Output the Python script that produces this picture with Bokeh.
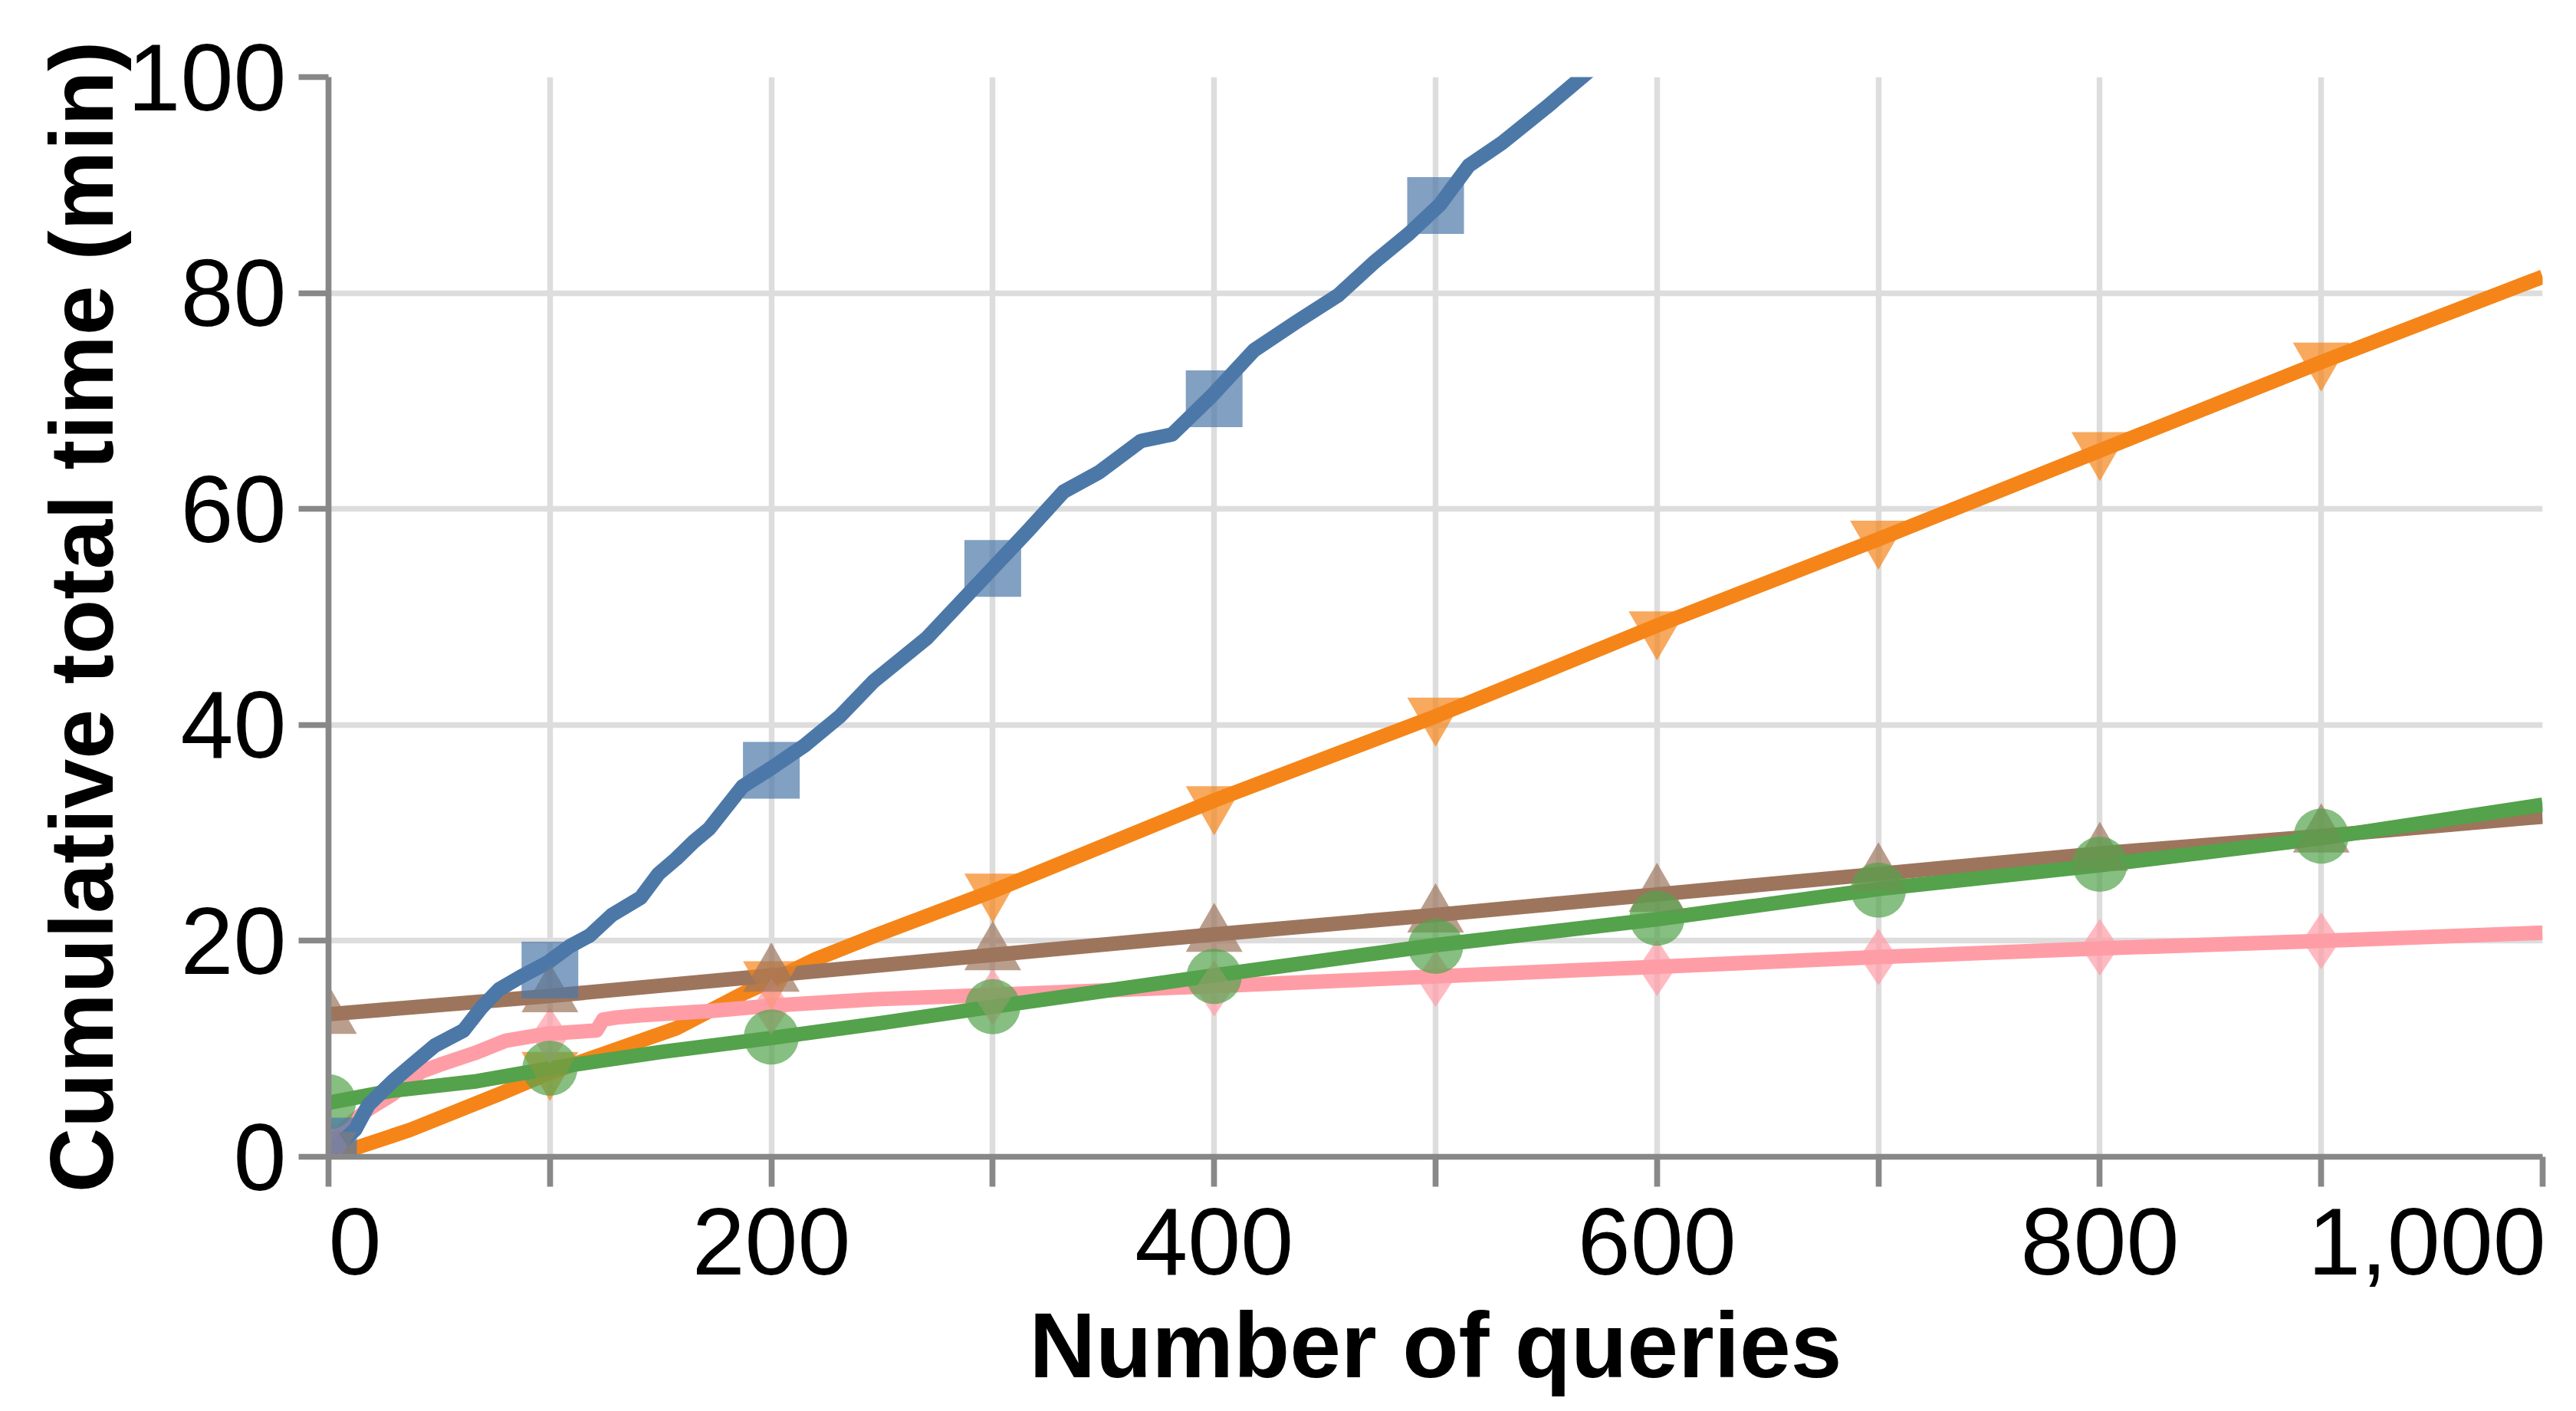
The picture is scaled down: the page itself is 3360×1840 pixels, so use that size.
import math
from bokeh.plotting import figure
from bokeh.models import Range1d, FixedTicker
from bokeh.embed import file_html
from bokeh.resources import INLINE

# ---- data ----
blue_q = [0, 5, 12, 18, 29, 37, 48, 61, 69, 77, 87, 99, 109, 118, 128, 141, 149, 157, 165, 172,
          187, 200, 215, 231, 246, 270, 299, 316, 332, 348, 367, 381, 399, 418, 437, 456, 472,
          488, 502, 515, 530, 550, 569, 580]
blue_v = [0.5, 1.2, 2.5, 4.8, 7.0, 8.4, 10.3, 11.7, 13.8, 15.5, 16.7, 18.0, 19.5, 20.5, 22.4, 24.0,
          26.2, 27.6, 29.2, 30.4, 34.3, 36.0, 38.1, 40.8, 44.0, 48.0, 54.3, 58.0, 61.6, 63.4, 66.3,
          66.9, 70.5, 74.7, 77.3, 79.8, 82.8, 85.5, 88.2, 91.8, 93.9, 97.2, 100.5, 102.5]

orange_q = [0, 12, 37, 77, 99, 125, 157, 188, 200, 220, 247, 300, 400, 500, 600, 700, 800, 900, 1000]
orange_v = [0.3, 0.8, 2.5, 5.8, 7.7, 9.6, 11.9, 15.2, 16.3, 18.3, 20.5, 24.6, 33.0, 40.8, 49.2,
            57.2, 65.4, 73.6, 81.5]

brown_q = [0, 100, 200, 300, 400, 500, 600, 700, 800, 900, 1000]
brown_v = [13.2, 14.9, 16.8, 18.7, 20.6, 22.4, 24.3, 26.2, 28.1, 29.7, 31.5]

green_q = [0, 28, 67, 100, 150, 200, 250, 300, 400, 500, 600, 700, 800, 900, 1000]
green_v = [5.0, 6.1, 7.0, 8.2, 9.7, 11.0, 12.4, 13.9, 16.8, 19.6, 22.0, 24.8, 27.0, 29.5, 32.6]

pink_q = [0, 8, 18, 29, 42, 50, 66, 80, 99, 121, 124, 130, 141, 172, 200, 247, 300, 400, 500,
          600, 700, 800, 900, 1000]
pink_v = [1.0, 2.8, 4.4, 5.8, 7.9, 8.5, 9.6, 10.75, 11.4, 11.7, 12.7, 12.9, 13.1, 13.5, 14.0,
          14.6, 15.0, 15.8, 16.7, 17.6, 18.5, 19.3, 20.0, 20.75]

marker_q = [0, 100, 200, 300, 400, 500, 600, 700, 800, 900]
blue_m = [1.0, 17.3, 35.8, 54.5, 70.2, 88.1]
orange_m = [0.8, 8.2, 16.6, 24.7, 32.8, 41.0, 49.0, 57.4, 65.6, 73.9]
brown_m = [12.9, 14.9, 16.8, 18.8, 20.5, 22.3, 24.2, 26.1, 28.0, 29.7]
green_m = [5.1, 8.2, 11.1, 13.9, 16.7, 19.5, 22.1, 24.7, 27.1, 29.7]
pink_m = [1.0, 11.2, 13.9, 14.8, 15.6, 16.5, 17.5, 18.5, 19.4, 20.0]

x_ticks = [0, 100, 200, 300, 400, 500, 600, 700, 800, 900, 1000]
x_tick_labels = ["0", "", "200", "", "400", "", "600", "", "800", "", "1,000"]
y_ticks = [0, 20, 40, 60, 80, 100]

x_title = "Number of queries"
y_title = "Cumulative total time (min)"

BLUE, ORANGE, BROWN, GREEN, PINK = "#4c78a8", "#f58518", "#9d755d", "#54a24b", "#ff9da6"
FONT = "Liberation Sans"
TICK_FS = "124px"

p = figure(width=3344, height=1836, output_backend="svg", toolbar_location=None,
           x_range=Range1d(0, 1000), y_range=Range1d(0, 100),
           min_border_left=428, min_border_right=28, min_border_top=100, min_border_bottom=328)
p.outline_line_color = None
p.background_fill_color = "white"
p.border_fill_color = "white"

# grid
p.xgrid.ticker = FixedTicker(ticks=x_ticks)
p.ygrid.ticker = FixedTicker(ticks=y_ticks)
for g in (p.xgrid[0], p.ygrid[0]):
    g.grid_line_color = "#dddddd"
    g.grid_line_width = 7.5

# axes
p.xaxis.ticker = FixedTicker(ticks=x_ticks)
p.yaxis.ticker = FixedTicker(ticks=y_ticks)
# Vega-style flush end labels: the first label is left-aligned on its tick, the last one
# right-aligned on its tick (emulated with no-break-space padding on centred labels).
nb = "\u00a0"
overrides = {t: lab for t, lab in zip(x_ticks, x_tick_labels)}
overrides[x_ticks[0]] = nb * 2 + x_tick_labels[0]
overrides[x_ticks[-1]] = ""
overrides[x_ticks[-2]] = nb * 8 + x_tick_labels[-1]
p.xaxis.major_label_overrides = overrides

for ax in (p.xaxis[0], p.yaxis[0]):
    ax.axis_line_color = "#888888"
    ax.axis_line_width = 7.7
    ax.major_tick_line_color = "#888888"
    ax.major_tick_line_width = 7.7
    ax.major_tick_out = 39
    ax.major_tick_in = 0
    ax.minor_tick_line_color = None
    ax.major_label_text_font = FONT
    ax.major_label_text_font_size = TICK_FS
    ax.major_label_text_color = "black"
    ax.axis_label_text_font = FONT
    ax.axis_label_text_font_style = "bold"
    ax.axis_label_text_color = "black"

p.xaxis.axis_label = x_title
p.yaxis.axis_label = y_title
p.xaxis.axis_label_text_font_size = "120px"
p.yaxis.axis_label_text_font_size = "117px"
p.xaxis.major_label_standoff = 2
p.yaxis.major_label_standoff = 16
p.xaxis.axis_label_standoff = -4
p.yaxis.axis_label_standoff = -8

LW = 19
# lines (drawing order: orange, pink, brown, green, blue)
p.line(orange_q, orange_v, line_width=LW, line_color=ORANGE, line_join="round")
p.line(pink_q, pink_v, line_width=LW, line_color=PINK, line_join="round")
p.line(brown_q, brown_v, line_width=LW, line_color=BROWN, line_join="round")
p.line(green_q, green_v, line_width=LW, line_color=GREEN, line_join="round")
p.line(blue_q, blue_v, line_width=LW, line_color=BLUE, line_join="round")

# markers
A = 0.7
p.scatter(marker_q, orange_m, marker="inverted_triangle", size=74, fill_color=ORANGE,
          fill_alpha=A, line_color=None)
p.scatter(marker_q, pink_m, marker="diamond", size=74, fill_color=PINK,
          fill_alpha=A, line_color=None)
p.scatter(marker_q, brown_m, marker="triangle", size=74, fill_color=BROWN,
          fill_alpha=A, line_color=None)
p.scatter(marker_q, green_m, marker="circle", size=72, fill_color=GREEN,
          fill_alpha=A, line_color=None)
p.scatter(marker_q[:len(blue_m)], blue_m, marker="square", size=74, fill_color=BLUE,
          fill_alpha=A, line_color=None)

open("out.html", "w").write(file_html(p, INLINE))
